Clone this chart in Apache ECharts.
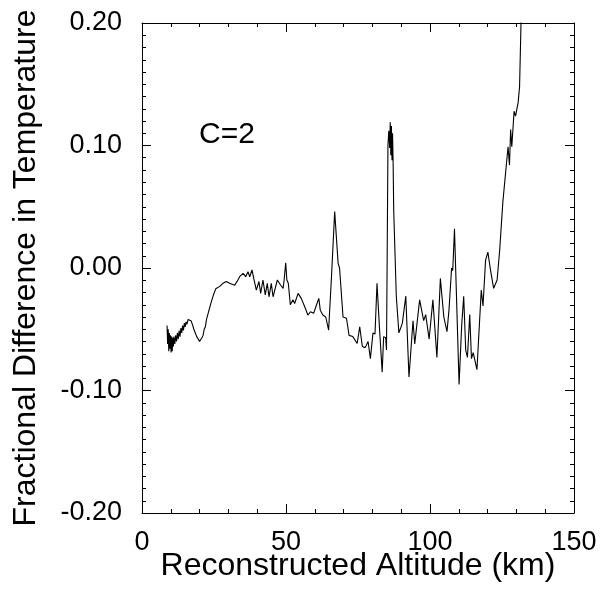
<!DOCTYPE html>
<html>
<head>
<meta charset="utf-8">
<script src="https://cdn.jsdelivr.net/npm/echarts@6/dist/echarts.min.js"></script>
<style>html,body{margin:0;padding:0;background:#fff;}#c{width:601px;height:591px;}</style>
</head>
<body>
<div id="c"></div>
<script>
var altitude = [
 8.7,8.9,9.1,9.3,9.5,9.7,9.9,10.1,10.3,10.5,10.7,10.9,11.1,11.4,11.7,12.0,12.3,12.6,12.9,13.2,13.5,13.8,14.1,14.4,14.7,15.0,15.3,15.6,16.0,16.5,17.0,17.5,18.0,18.5,19.0,19.5,20.0,20.4,20.8,21.2,21.6,22.0,22.4,22.8,23.2,23.6,24.0,24.4,24.8,25.2,25.6,26.0,
 27.0,28.1,29.3,30.4,32.2,33.3,33.9,35.1,36.0,36.8,37.4,38.2,38.8,39.7,40.6,41.2,42.0,42.8,43.5,44.1,44.9,45.5,46.4,47.0,48.1,49.0,49.3,49.9,50.3,50.8,51.5,52.4,53.0,54.2,55.3,56.5,57.6,58.5,59.6,60.6,61.4,61.9,62.8,63.8,64.8,65.8,66.9,68.1,68.6,69.8,71.0,71.9,73.2,74.7,75.6,76.5,77.5,78.5,79.3,80.2,80.9,81.6,82.5,83.4,83.9,84.6,84.9,85.4,85.7,86.0,86.2,86.4,86.6,86.8,87.0,87.2,87.4,88.3,89.2,90.4,91.6,92.7,94.1,94.7,96.4,97.8,98.5,99.7,101.0,102.4,103.6,104.8,105.9,106.6,107.5,107.9,108.5,110.1,111.0,111.7,112.4,113.0,113.8,114.4,115.0,116.3,117.8,118.4,119.3,120.1,121.0,122.1,123.3,124.2,125.3,125.8,127.1,127.6,128.0,128.4,129.2,129.7,130.6,131.1,131.6,132.2
];
var fracDiff = [
 -0.047,-0.062,-0.050,-0.068,-0.053,-0.066,-0.055,-0.069,-0.056,-0.068,-0.057,-0.064,-0.056,-0.062,-0.055,-0.060,-0.053,-0.058,-0.051,-0.056,-0.049,-0.053,-0.047,-0.051,-0.045,-0.048,-0.044,-0.046,-0.042,-0.043,-0.043,-0.046,-0.050,-0.053,-0.056,-0.058,-0.060,-0.061,-0.057,-0.055,-0.050,-0.048,-0.042,-0.041,-0.035,-0.034,-0.028,-0.027,-0.022,-0.021,-0.017,-0.016,
 -0.015,-0.0125,-0.011,-0.0125,-0.014,-0.0098,-0.0071,-0.0044,-0.0071,-0.003,-0.0071,-0.0016,-0.0085,-0.018,-0.011,-0.0207,-0.0098,-0.022,-0.0125,-0.0235,-0.0125,-0.0235,-0.0153,-0.0098,-0.0139,-0.0166,-0.011,0.0043,-0.0098,-0.0125,-0.030,-0.026,-0.029,-0.0207,-0.0248,-0.0316,-0.0384,-0.0357,-0.037,-0.030,-0.0248,-0.0344,-0.0384,-0.040,-0.0507,-0.007,0.046,0.0038,0.0,-0.040,-0.041,-0.055,-0.056,-0.0616,-0.048,-0.064,-0.065,-0.060,-0.074,-0.053,-0.054,-0.0125,-0.0507,-0.085,-0.056,-0.057,-0.067,0.100,0.112,0.098,0.119,0.092,0.116,0.088,0.110,0.085,0.047,-0.023,-0.053,-0.045,-0.023,-0.089,-0.043,-0.062,-0.026,-0.043,-0.038,-0.058,-0.026,-0.073,-0.0085,-0.040,-0.052,-0.034,0.0,-0.002,0.032,-0.095,-0.047,-0.023,-0.067,-0.073,-0.038,-0.074,-0.069,-0.083,-0.018,-0.031,0.0065,0.013,-0.0016,-0.0166,-0.0098,0.0147,0.054,0.053,0.099,0.084,0.113,0.099,0.128,0.124,0.135,0.148,0.200,0.260
];
var xTicks = [0, 50, 100, 150];
var yTicks = [-0.2, -0.1, 0.0, 0.1, 0.2];

var font = 'Liberation Sans, Arial, Helvetica, sans-serif';
var data = altitude.map(function (a, i) { return [a, fracDiff[i]]; });
var chart = echarts.init(document.getElementById('c'), null, {renderer: 'canvas'});
var axisLineStyle = {color: '#000', width: 1};
function xAx(pos, labels) {
  return {
    type: 'value', position: pos, min: xTicks[0], max: xTicks[xTicks.length - 1], interval: 50,
    name: labels ? 'Reconstructed Altitude (km)' : '', nameLocation: 'middle', nameGap: 37, nameMoveOverlap: false,
    nameTextStyle: {fontFamily: font, fontSize: 32, color: '#000'},
    axisLine: {show: true, onZero: false, lineStyle: axisLineStyle},
    axisTick: {show: true, inside: true, length: 9, lineStyle: axisLineStyle},
    minorTick: {show: true, splitNumber: 5, length: 4, lineStyle: axisLineStyle},
    axisLabel: {show: labels, fontFamily: font, fontSize: 27, color: '#000', margin: 16},
    splitLine: {show: false}
  };
}
function yAx(pos, labels) {
  return {
    type: 'value', position: pos, min: yTicks[0], max: yTicks[yTicks.length - 1], interval: 0.1,
    name: labels ? 'Fractional Difference in Temperature' : '', nameLocation: 'middle', nameGap: 100, nameRotate: 90, nameMoveOverlap: false,
    nameTextStyle: {fontFamily: font, fontSize: 32, color: '#000'},
    axisLine: {show: true, onZero: false, lineStyle: axisLineStyle},
    axisTick: {show: true, inside: true, length: 9, lineStyle: axisLineStyle},
    minorTick: {show: true, splitNumber: 10, length: 4, lineStyle: axisLineStyle},
    axisLabel: {show: labels, fontFamily: font, fontSize: 27, color: '#000', margin: 20,
      formatter: function (v) { return (Math.abs(v) < 1e-9 ? 0 : v).toFixed(2); }},
    splitLine: {show: false}
  };
}
chart.setOption({
  animation: false,
  backgroundColor: '#fff',
  grid: {left: 142, top: 23, right: 27, bottom: 78, containLabel: false, outerBoundsMode: 'none'},
  xAxis: [xAx('bottom', true), xAx('top', false)],
  yAxis: [yAx('left', true), yAx('right', false)],
  graphic: [{
    type: 'text', left: 199, top: 120,
    style: {text: 'C=2', fontFamily: font, fontSize: 30, fill: '#000'}
  }],
  series: [{
    type: 'line', xAxisIndex: 0, yAxisIndex: 0, data: data,
    showSymbol: false, symbol: 'none', clip: true,
    lineStyle: {color: '#000', width: 1.1}
  }]
});
</script>
</body>
</html>
